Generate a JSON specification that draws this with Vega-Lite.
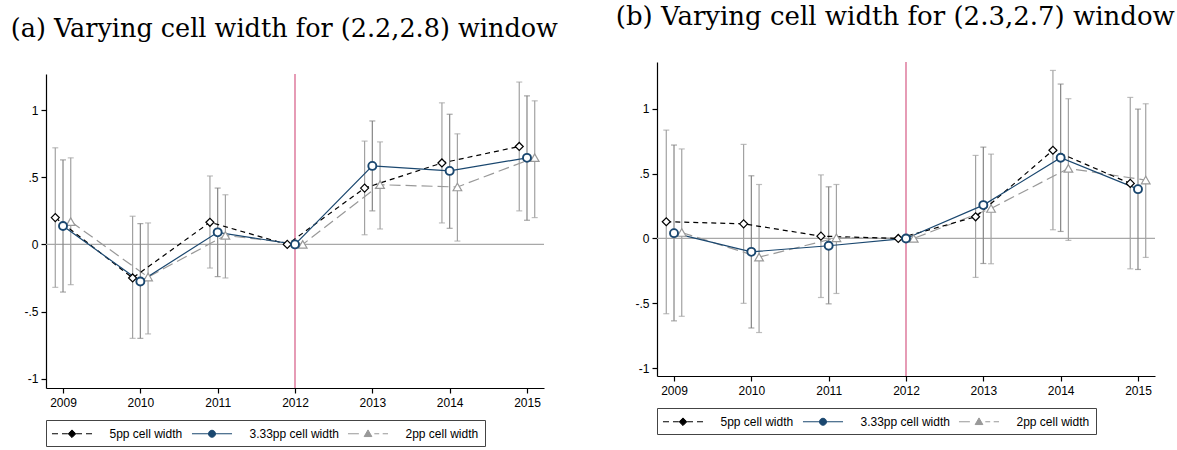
{
  "$schema": "https://vega.github.io/schema/vega-lite/v6.json",
  "background": "white",
  "padding": {"left": 10, "top": 3, "right": 5, "bottom": 0},
  "datasets": {
    "a": [
      {"s": "5pp cell width", "year": 2008.9, "est": 0.2, "lo": -0.32, "hi": 0.72},
      {"s": "5pp cell width", "year": 2009.9, "est": -0.25, "lo": -0.7, "hi": 0.21},
      {"s": "5pp cell width", "year": 2010.9, "est": 0.165, "lo": -0.176, "hi": 0.51},
      {"s": "5pp cell width", "year": 2011.9, "est": 0, "lo": null, "hi": null},
      {"s": "5pp cell width", "year": 2012.9, "est": 0.42, "lo": 0.072, "hi": 0.77},
      {"s": "5pp cell width", "year": 2013.9, "est": 0.607, "lo": 0.16, "hi": 1.055},
      {"s": "5pp cell width", "year": 2014.9, "est": 0.73, "lo": 0.25, "hi": 1.21},
      {"s": "3.33pp cell width", "year": 2009, "est": 0.137, "lo": -0.355, "hi": 0.63},
      {"s": "3.33pp cell width", "year": 2010, "est": -0.276, "lo": -0.7, "hi": 0.155},
      {"s": "3.33pp cell width", "year": 2011, "est": 0.09, "lo": -0.24, "hi": 0.42},
      {"s": "3.33pp cell width", "year": 2012, "est": 0, "lo": null, "hi": null},
      {"s": "3.33pp cell width", "year": 2013, "est": 0.585, "lo": 0.25, "hi": 0.92},
      {"s": "3.33pp cell width", "year": 2014, "est": 0.548, "lo": 0.12, "hi": 0.97},
      {"s": "3.33pp cell width", "year": 2015, "est": 0.645, "lo": 0.18, "hi": 1.107},
      {"s": "2pp cell width", "year": 2009.1, "est": 0.17, "lo": -0.3, "hi": 0.645},
      {"s": "2pp cell width", "year": 2010.1, "est": -0.243, "lo": -0.667, "hi": 0.16},
      {"s": "2pp cell width", "year": 2011.1, "est": 0.067, "lo": -0.25, "hi": 0.37},
      {"s": "2pp cell width", "year": 2012.1, "est": 0, "lo": null, "hi": null},
      {"s": "2pp cell width", "year": 2013.1, "est": 0.445, "lo": 0.115, "hi": 0.764},
      {"s": "2pp cell width", "year": 2014.1, "est": 0.428, "lo": 0.025, "hi": 0.824},
      {"s": "2pp cell width", "year": 2015.1, "est": 0.647, "lo": 0.2, "hi": 1.07}
    ],
    "b": [
      {"s": "5pp cell width", "year": 2008.9, "est": 0.129, "lo": -0.58, "hi": 0.835},
      {"s": "5pp cell width", "year": 2009.9, "est": 0.113, "lo": -0.5, "hi": 0.725},
      {"s": "5pp cell width", "year": 2010.9, "est": 0.018, "lo": -0.455, "hi": 0.49},
      {"s": "5pp cell width", "year": 2011.9, "est": 0, "lo": null, "hi": null},
      {"s": "5pp cell width", "year": 2012.9, "est": 0.167, "lo": -0.3, "hi": 0.64},
      {"s": "5pp cell width", "year": 2013.9, "est": 0.68, "lo": 0.067, "hi": 1.295},
      {"s": "5pp cell width", "year": 2014.9, "est": 0.424, "lo": -0.234, "hi": 1.087},
      {"s": "3.33pp cell width", "year": 2009, "est": 0.041, "lo": -0.635, "hi": 0.72},
      {"s": "3.33pp cell width", "year": 2010, "est": -0.103, "lo": -0.69, "hi": 0.483},
      {"s": "3.33pp cell width", "year": 2011, "est": -0.056, "lo": -0.504, "hi": 0.398},
      {"s": "3.33pp cell width", "year": 2012, "est": 0, "lo": null, "hi": null},
      {"s": "3.33pp cell width", "year": 2013, "est": 0.257, "lo": -0.193, "hi": 0.704},
      {"s": "3.33pp cell width", "year": 2014, "est": 0.622, "lo": 0.054, "hi": 1.19},
      {"s": "3.33pp cell width", "year": 2015, "est": 0.38, "lo": -0.239, "hi": 0.997},
      {"s": "2pp cell width", "year": 2009.1, "est": 0.046, "lo": -0.6, "hi": 0.69},
      {"s": "2pp cell width", "year": 2010.1, "est": -0.144, "lo": -0.725, "hi": 0.416},
      {"s": "2pp cell width", "year": 2011.1, "est": 0.005, "lo": -0.424, "hi": 0.416},
      {"s": "2pp cell width", "year": 2012.1, "est": 0, "lo": null, "hi": null},
      {"s": "2pp cell width", "year": 2013.1, "est": 0.231, "lo": -0.195, "hi": 0.65},
      {"s": "2pp cell width", "year": 2014.1, "est": 0.54, "lo": -0.015, "hi": 1.077},
      {"s": "2pp cell width", "year": 2015.1, "est": 0.45, "lo": -0.146, "hi": 1.038}
    ]
  },
  "spacing": 57,
  "resolve": {
    "scale": {"x": "independent", "y": "independent", "shape": "independent", "fill": "independent", "stroke": "independent"},
    "legend": {"shape": "independent", "fill": "independent", "stroke": "independent"}
  },
  "hconcat": [
    {
      "spacing": 0,
      "resolve": {"scale": {"x": "independent", "y": "independent"}},
      "vconcat": [
        {"width": 498, "height": 13, "data": {"values": []}, "mark": {"type": "point", "opacity": 0}},
        {
          "data": {"name": "a"},
          "width": 498,
          "height": 314,
          "title": {"text": "(a) Varying cell width for (2.2,2.8) window", "fontSize": 25.5},
          "layer": [
            {"data": {"values": [{}]}, "mark": {"type": "rule", "color": "#a8a8a8", "strokeWidth": 1.3}, "encoding": {"y": {"datum": 0, "type": "quantitative"}}},
            {"data": {"values": [{}]}, "mark": {"type": "rule", "color": "#d9668e", "strokeWidth": 1.3}, "encoding": {"x": {"datum": 2012, "type": "quantitative"}}},
            {"mark": {"type": "rule", "strokeWidth": 1.2},
             "encoding": {
               "x": {"field": "year", "type": "quantitative", "title": null, "scale": {"domain": [2008.78, 2015.22], "nice": false, "zero": false}, "axis": {"values": [2009, 2010, 2011, 2012, 2013, 2014, 2015], "format": "d"}},
               "y": {"field": "lo", "type": "quantitative", "title": null, "scale": {"domain": [-1.07, 1.27], "nice": false, "zero": false}, "axis": {"values": [-1, -0.5, 0, 0.5, 1], "labelExpr": "datum.value == 0 ? '0' : replace(replace(format(datum.value, '.1~f'), '0.', '.'), '\u2212', '-')"}},
               "y2": {"field": "hi"},
               "color": {"condition": {"test": "datum.s == '3.33pp cell width'", "value": "#858585"}, "value": "#a2a2a2"}
             }},
            {"mark": {"type": "tick", "orient": "horizontal", "size": 6, "thickness": 1.2},
             "encoding": {"x": {"field": "year", "type": "quantitative", "title": null}, "y": {"field": "lo", "type": "quantitative", "title": null},
               "color": {"condition": {"test": "datum.s == '3.33pp cell width'", "value": "#858585"}, "value": "#a2a2a2"}}},
            {"mark": {"type": "tick", "orient": "horizontal", "size": 6, "thickness": 1.2},
             "encoding": {"x": {"field": "year", "type": "quantitative", "title": null}, "y": {"field": "hi", "type": "quantitative", "title": null},
               "color": {"condition": {"test": "datum.s == '3.33pp cell width'", "value": "#858585"}, "value": "#a2a2a2"}}},
            {"transform": [{"filter": "datum.s == '2pp cell width'"}], "mark": {"type": "line", "color": "#999999", "strokeWidth": 1.2, "strokeDash": [11, 5]},
             "encoding": {"x": {"field": "year", "type": "quantitative", "title": null}, "y": {"field": "est", "type": "quantitative", "title": null}}},
            {"transform": [{"filter": "datum.s == '5pp cell width'"}], "mark": {"type": "line", "color": "#000000", "strokeWidth": 1.2, "strokeDash": [5, 4]},
             "encoding": {"x": {"field": "year", "type": "quantitative", "title": null}, "y": {"field": "est", "type": "quantitative", "title": null}}},
            {"transform": [{"filter": "datum.s == '3.33pp cell width'"}], "mark": {"type": "line", "color": "#1a476f", "strokeWidth": 1.2},
             "encoding": {"x": {"field": "year", "type": "quantitative", "title": null}, "y": {"field": "est", "type": "quantitative", "title": null}}},
            {"transform": [{"filter": "datum.s == '5pp cell width'"}], "mark": {"type": "point", "shape": "diamond", "size": 64, "filled": false, "fill": "white", "stroke": "#000000", "strokeWidth": 1.2, "opacity": 1},
             "encoding": {"x": {"field": "year", "type": "quantitative", "title": null}, "y": {"field": "est", "type": "quantitative", "title": null}}},
            {"transform": [{"filter": "datum.s == '2pp cell width'"}], "mark": {"type": "point", "shape": "triangle-up", "size": 75, "filled": false, "fill": "white", "stroke": "#999999", "strokeWidth": 1.2, "opacity": 1},
             "encoding": {"x": {"field": "year", "type": "quantitative", "title": null}, "y": {"field": "est", "type": "quantitative", "title": null}}},
            {"transform": [{"filter": "datum.s == '3.33pp cell width'"}], "mark": {"type": "point", "shape": "circle", "size": 64, "filled": false, "fill": "white", "stroke": "#1a476f", "strokeWidth": 1.9, "opacity": 1},
             "encoding": {"x": {"field": "year", "type": "quantitative", "title": null}, "y": {"field": "est", "type": "quantitative", "title": null}}},
            {"transform": [{"filter": "false"}], "mark": {"type": "point", "filled": true, "size": 196, "strokeWidth": 1, "opacity": 1},
             "encoding": {
               "x": {"field": "year", "type": "quantitative", "title": null},
               "y": {"field": "est", "type": "quantitative", "title": null},
               "shape": {"field": "s", "type": "nominal", "title": null, "scale": {"domain": ["5pp cell width", "3.33pp cell width", "2pp cell width"], "range": ["M-2.86,0H-2M-1.43,0H-0.6M0.6,0H1.43M2,0H2.86M0,-0.55L0.55,0L0,0.55L-0.55,0Z", "M-2.86,0H2.86M0.5,0A0.5,0.5,0,1,1,-0.5,0A0.5,0.5,0,1,1,0.5,0Z", "M-2.86,0H-1.3M0.9,0H1.6M2.1,0H2.86M0,-0.55L0.55,0.4L-0.55,0.4Z"]}},
               "fill": {"field": "s", "type": "nominal", "title": null, "scale": {"domain": ["5pp cell width", "3.33pp cell width", "2pp cell width"], "range": ["#000000", "#1a476f", "#999999"]}},
               "stroke": {"field": "s", "type": "nominal", "title": null, "scale": {"domain": ["5pp cell width", "3.33pp cell width", "2pp cell width"], "range": ["#000000", "#1a476f", "#999999"]}}
             }}
          ]
        }
      ]
    },
    {
      "spacing": 0,
      "resolve": {"scale": {"x": "independent", "y": "independent"}},
      "vconcat": [
        {"width": 498, "height": 1, "data": {"values": []}, "mark": {"type": "point", "opacity": 0}},
        {
          "data": {"name": "b"},
          "width": 498,
          "height": 314,
          "title": {"text": "(b) Varying cell width for (2.3,2.7) window", "fontSize": 26},
          "layer": [
            {"data": {"values": [{}]}, "mark": {"type": "rule", "color": "#a8a8a8", "strokeWidth": 1.3}, "encoding": {"y": {"datum": 0, "type": "quantitative"}}},
            {"data": {"values": [{}]}, "mark": {"type": "rule", "color": "#d9668e", "strokeWidth": 1.3}, "encoding": {"x": {"datum": 2012, "type": "quantitative"}}},
            {"mark": {"type": "rule", "strokeWidth": 1.2},
             "encoding": {
               "x": {"field": "year", "type": "quantitative", "title": null, "scale": {"domain": [2008.78, 2015.22], "nice": false, "zero": false}, "axis": {"values": [2009, 2010, 2011, 2012, 2013, 2014, 2015], "format": "d"}},
               "y": {"field": "lo", "type": "quantitative", "title": null, "scale": {"domain": [-1.06, 1.36], "nice": false, "zero": false}, "axis": {"values": [-1, -0.5, 0, 0.5, 1], "labelExpr": "datum.value == 0 ? '0' : replace(replace(format(datum.value, '.1~f'), '0.', '.'), '\u2212', '-')"}},
               "y2": {"field": "hi"},
               "color": {"condition": {"test": "datum.s == '3.33pp cell width'", "value": "#858585"}, "value": "#a2a2a2"}
             }},
            {"mark": {"type": "tick", "orient": "horizontal", "size": 6, "thickness": 1.2},
             "encoding": {"x": {"field": "year", "type": "quantitative", "title": null}, "y": {"field": "lo", "type": "quantitative", "title": null},
               "color": {"condition": {"test": "datum.s == '3.33pp cell width'", "value": "#858585"}, "value": "#a2a2a2"}}},
            {"mark": {"type": "tick", "orient": "horizontal", "size": 6, "thickness": 1.2},
             "encoding": {"x": {"field": "year", "type": "quantitative", "title": null}, "y": {"field": "hi", "type": "quantitative", "title": null},
               "color": {"condition": {"test": "datum.s == '3.33pp cell width'", "value": "#858585"}, "value": "#a2a2a2"}}},
            {"transform": [{"filter": "datum.s == '2pp cell width'"}], "mark": {"type": "line", "color": "#999999", "strokeWidth": 1.2, "strokeDash": [11, 5]},
             "encoding": {"x": {"field": "year", "type": "quantitative", "title": null}, "y": {"field": "est", "type": "quantitative", "title": null}}},
            {"transform": [{"filter": "datum.s == '5pp cell width'"}], "mark": {"type": "line", "color": "#000000", "strokeWidth": 1.2, "strokeDash": [5, 4]},
             "encoding": {"x": {"field": "year", "type": "quantitative", "title": null}, "y": {"field": "est", "type": "quantitative", "title": null}}},
            {"transform": [{"filter": "datum.s == '3.33pp cell width'"}], "mark": {"type": "line", "color": "#1a476f", "strokeWidth": 1.2},
             "encoding": {"x": {"field": "year", "type": "quantitative", "title": null}, "y": {"field": "est", "type": "quantitative", "title": null}}},
            {"transform": [{"filter": "datum.s == '5pp cell width'"}], "mark": {"type": "point", "shape": "diamond", "size": 64, "filled": false, "fill": "white", "stroke": "#000000", "strokeWidth": 1.2, "opacity": 1},
             "encoding": {"x": {"field": "year", "type": "quantitative", "title": null}, "y": {"field": "est", "type": "quantitative", "title": null}}},
            {"transform": [{"filter": "datum.s == '2pp cell width'"}], "mark": {"type": "point", "shape": "triangle-up", "size": 75, "filled": false, "fill": "white", "stroke": "#999999", "strokeWidth": 1.2, "opacity": 1},
             "encoding": {"x": {"field": "year", "type": "quantitative", "title": null}, "y": {"field": "est", "type": "quantitative", "title": null}}},
            {"transform": [{"filter": "datum.s == '3.33pp cell width'"}], "mark": {"type": "point", "shape": "circle", "size": 64, "filled": false, "fill": "white", "stroke": "#1a476f", "strokeWidth": 1.9, "opacity": 1},
             "encoding": {"x": {"field": "year", "type": "quantitative", "title": null}, "y": {"field": "est", "type": "quantitative", "title": null}}},
            {"transform": [{"filter": "false"}], "mark": {"type": "point", "filled": true, "size": 196, "strokeWidth": 1, "opacity": 1},
             "encoding": {
               "x": {"field": "year", "type": "quantitative", "title": null},
               "y": {"field": "est", "type": "quantitative", "title": null},
               "shape": {"field": "s", "type": "nominal", "title": null, "scale": {"domain": ["5pp cell width", "3.33pp cell width", "2pp cell width"], "range": ["M-2.86,0H-2M-1.43,0H-0.6M0.6,0H1.43M2,0H2.86M0,-0.55L0.55,0L0,0.55L-0.55,0Z", "M-2.86,0H2.86M0.5,0A0.5,0.5,0,1,1,-0.5,0A0.5,0.5,0,1,1,0.5,0Z", "M-2.86,0H-1.3M0.9,0H1.6M2.1,0H2.86M0,-0.55L0.55,0.4L-0.55,0.4Z"]}},
               "fill": {"field": "s", "type": "nominal", "title": null, "scale": {"domain": ["5pp cell width", "3.33pp cell width", "2pp cell width"], "range": ["#000000", "#1a476f", "#999999"]}},
               "stroke": {"field": "s", "type": "nominal", "title": null, "scale": {"domain": ["5pp cell width", "3.33pp cell width", "2pp cell width"], "range": ["#000000", "#1a476f", "#999999"]}}
             }}
          ]
        }
      ]
    }
  ],
  "config": {
    "view": {"stroke": null},
    "title": {"font": "DejaVu Serif", "fontWeight": "normal", "color": "#000000", "anchor": "middle", "frame": "bounds", "baseline": "bottom", "offset": 31},
    "axis": {"grid": false, "domainColor": "#000000", "domainWidth": 1.2, "tickColor": "#000000", "tickWidth": 1.2, "tickSize": 5, "labelFont": "Liberation Sans", "labelFontSize": 12, "labelColor": "#000000", "title": null},
    "axisX": {"labelPadding": 4},
    "axisY": {"labelPadding": 3},
    "legend": {"orient": "bottom", "direction": "horizontal", "title": null, "strokeColor": "#444444", "fillColor": "white", "padding": 6, "offset": 12, "symbolSize": 196, "symbolStrokeWidth": 1, "symbolOffset": 12.5, "labelOffset": 30, "columnPadding": 6, "labelFont": "Liberation Sans", "labelFontSize": 12, "labelColor": "#000000", "cornerRadius": 0, "symbolOpacity": 1}
  }
}
